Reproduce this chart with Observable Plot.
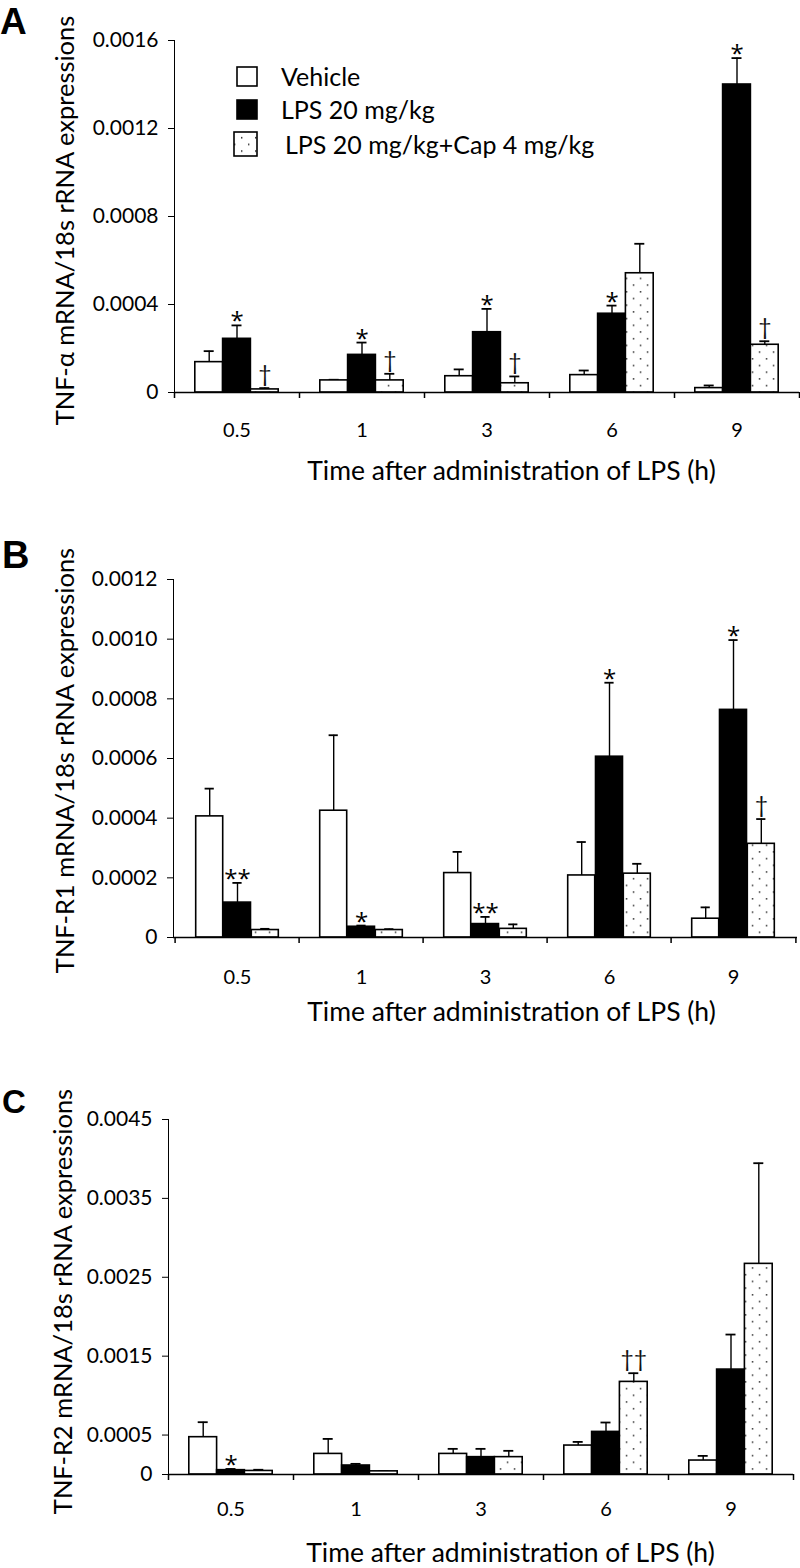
<!DOCTYPE html>
<html>
<head>
<meta charset="utf-8">
<script src="https://cdn.jsdelivr.net/npm/d3@7"></script>
<script src="https://cdn.jsdelivr.net/npm/@observablehq/plot@0.6"></script>
<style>
  html, body { margin: 0; padding: 0; background: #fff; }
  body { width: 800px; height: 1568px; position: relative; overflow: hidden; font-family: Lato, sans-serif; }
  .panel { position: absolute; left: 0; }
  #overlay { position: absolute; left: 0; top: 0; pointer-events: none; }
</style>
</head>
<body>
<svg width="0" height="0" style="position:absolute">
  <defs>
    <pattern id="dots" width="14" height="13.4" patternUnits="userSpaceOnUse">
      <rect width="14" height="13.4" fill="white"></rect>
      <rect x="3" y="3" width="1.4" height="1.4" fill="#111"></rect>
      <rect x="10" y="9.7" width="1.4" height="1.4" fill="#111"></rect>
    </pattern>
  </defs>
</svg>
<div id="A" class="panel" style="top:0px"></div>
<div id="B" class="panel" style="top:540px"></div>
<div id="C" class="panel" style="top:1070px"></div>
<svg id="overlay" width="800" height="1568"></svg>
<script>
// ---------- data ----------
const times = ["0.5", "1", "3", "6", "9"];
const groups = ["Vehicle", "LPS 20 mg/kg", "LPS 20 mg/kg+Cap 4 mg/kg"];
const xTitle = "Time after administration of LPS (h)";

// Panel A: TNF-α
const aTitle = "TNF-α mRNA/18s rRNA expressions";
const aTicks = [0, 0.0004, 0.0008, 0.0012, 0.0016];
const aVehicle    = [0.000138, 0.000055, 0.000074, 0.000079, 0.000020];
const aVehicleSem = [0.000050, 0.000003, 0.000031, 0.000021, 0.000012];
const aLps        = [0.000244, 0.000171, 0.000274, 0.000358, 0.001400];
const aLpsSem     = [0.000061, 0.000056, 0.000106, 0.000037, 0.000120];
const aCap        = [0.000014, 0.000055, 0.000042, 0.000542, 0.000217];
const aCapSem     = [0.000006, 0.000030, 0.000031, 0.000134, 0.000016];
const aVehicleSig = ["", "", "", "", ""];
const aLpsSig     = ["*", "*", "*", "*", "*"];
const aCapSig     = ["†", "†", "†", "", "†"];

// Panel B: TNF-R1
const bTitle = "TNF-R1 mRNA/18s rRNA expressions";
const bTicks = [0, 0.0002, 0.0004, 0.0006, 0.0008, 0.0010, 0.0012];
const bVehicle    = [0.000406, 0.000425, 0.000216, 0.000208, 0.000063];
const bVehicleSem = [0.000093, 0.000253, 0.000071, 0.000112, 0.000038];
const bLps        = [0.000117, 0.000036, 0.000045, 0.000606, 0.000763];
const bLpsSem     = [0.000066, 0.000004, 0.000024, 0.000248, 0.000234];
const bCap        = [0.000025, 0.000025, 0.000029, 0.000214, 0.000314];
const bCapSem     = [0.000004, 0.000003, 0.000015, 0.000033, 0.000083];
const bVehicleSig = ["", "", "", "", ""];
const bLpsSig     = ["**", "*", "**", "*", "*"];
const bCapSig     = ["", "", "", "", "†"];

// Panel C: TNF-R2
const cTitle = "TNF-R2 mRNA/18s rRNA expressions";
const cTicks = [0, 0.0005, 0.0015, 0.0025, 0.0035, 0.0045];
const cVehicle    = [0.000473, 0.000261, 0.000261, 0.000367, 0.000177];
const cVehicleSem = [0.000190, 0.000190, 0.000064, 0.000046, 0.000059];
const cLps        = [0.000055, 0.000114, 0.000220, 0.000540, 0.001330];
const cLpsSem     = [0.000015, 0.000021, 0.000105, 0.000119, 0.000444];
const cCap        = [0.000045, 0.000040, 0.000220, 0.001174, 0.002670];
const cCapSem     = [0.000015, 0.000003, 0.000080, 0.000110, 0.001276];
const cVehicleSig = ["", "", "", "", ""];
const cLpsSig     = ["*", "", "", "", ""];
const cCapSig     = ["", "", "", "††", ""];

// ---------- build tables ----------
function makeRows(means, sems, sigs) {
  const out = [];
  means.forEach((series, gi) => series.forEach((v, ti) => {
    out.push({time: times[ti], group: groups[gi], gi, mean: v, top: v + sems[gi][ti], sig: sigs[gi][ti]});
  }));
  return out;
}
const aRows = makeRows([aVehicle, aLps, aCap], [aVehicleSem, aLpsSem, aCapSem], [aVehicleSig, aLpsSig, aCapSig]);
const bRows = makeRows([bVehicle, bLps, bCap], [bVehicleSem, bLpsSem, bCapSem], [bVehicleSig, bLpsSig, bCapSig]);
const cRows = makeRows([cVehicle, cLps, cCap], [cVehicleSem, cLpsSem, cCapSem], [cVehicleSig, cLpsSig, cCapSig]);

const FONT = "Lato, 'Open Sans', sans-serif";
const STAR_FONT = "'Open Sans', 'DejaVu Sans', sans-serif";
const fills = ["white", "black", "url(#dots)"];

function panel(cfg) {
  const W = 800;
  const {rows, ticks, title, ml, mr, mt, mb, h, yTitleX, yTitleDy, xTitleX, xTitleDy, xLabelDy} = cfg;
  const bw = (W - ml - mr) / times.length;
  const barW = 27.8, capW = 10;
  const frameCx = (ml + W - mr) / 2;
  const marks = [];
  groups.forEach((g, gi) => {
    const d = rows.filter(r => r.gi === gi);
    const dx = (gi - 1) * barW;
    marks.push(Plot.ruleX(d, {x: "time", y1: "mean", y2: "top", dx, stroke: "black", strokeWidth: 1.4}));
    marks.push(Plot.tickY(d, {x: "time", y: "top", dx, insetLeft: (bw - capW) / 2, insetRight: (bw - capW) / 2, stroke: "black", strokeWidth: 1.8}));
    marks.push(Plot.barY(d, {x: "time", y: "mean", dx, insetLeft: (bw - barW) / 2, insetRight: (bw - barW) / 2, fill: fills[gi], stroke: "black", strokeWidth: 1.6}));
    const stars = d.filter(r => r.sig.includes("*"));
    const daggers = d.filter(r => r.sig.includes("†"));
    marks.push(Plot.text(stars, {x: "time", y: "top", text: "sig", dx, lineAnchor: "bottom", dy: 4, fontSize: 24, fontFamily: STAR_FONT, fill: "black"}));
    marks.push(Plot.text(daggers, {x: "time", y: "top", text: "sig", dx, lineAnchor: "bottom", dy: -6, fontSize: 23, fontFamily: FONT, fill: "#111"}));
  });
  // x axis line, boundary ticks and labels
  marks.push(Plot.ruleY([0], {stroke: "black", strokeWidth: 1.5}));
  marks.push(Plot.axisX({tickSize: 6, tickFormat: () => "", dx: -bw / 2, label: null, strokeWidth: 1.5}));
  marks.push(Plot.axisX([times[times.length - 1]], {tickSize: 6, tickFormat: () => "", dx: bw / 2, label: null, strokeWidth: 1.5}));
  marks.push(Plot.text(times, {x: d => d, frameAnchor: "bottom", dy: xLabelDy, lineAnchor: "middle", fontSize: 20, fontFamily: FONT, fill: "black"}));
  // titles
  marks.push(Plot.text([xTitle], {frameAnchor: "bottom", dx: xTitleX - frameCx, dy: xTitleDy, lineAnchor: "middle", fontSize: 26.5, fontFamily: FONT, fill: "black"}));
  marks.push(Plot.text([title], {frameAnchor: "left", dx: yTitleX - ml, dy: yTitleDy, rotate: -90, lineAnchor: "middle", textAnchor: "middle", fontSize: 25.5, fontFamily: FONT, fill: "black"}));
  return Plot.plot({
    width: W, height: h,
    marginLeft: ml, marginRight: mr, marginTop: mt, marginBottom: mb,
    style: {fontFamily: FONT, fontSize: "21px", color: "black", background: "transparent", overflow: "visible"},
    x: {domain: times, padding: 0, axis: null},
    y: {domain: [0, ticks[ticks.length - 1]], ticks, tickFormat: d => d === 0 ? "0" : d.toFixed(4),
        tickSize: 6, tickPadding: 10, line: true, label: null},
    marks
  });
}

document.getElementById("A").append(panel({rows: aRows, ticks: aTicks, title: aTitle,
  ml: 174, mr: 1, mt: 40, mb: 100, h: 492, yTitleX: 65, yTitleDy: 4, xTitleX: 511, xTitleDy: 79, xLabelDy: 38}));
document.getElementById("B").append(panel({rows: bRows, ticks: bTicks, title: bTitle,
  ml: 173, mr: 3, mt: 39, mb: 100, h: 497, yTitleX: 65, yTitleDy: 2, xTitleX: 511, xTitleDy: 75, xLabelDy: 40}));
document.getElementById("C").append(panel({rows: cRows, ticks: cTicks, title: cTitle,
  ml: 168, mr: 7, mt: 49, mb: 94, h: 498, yTitleX: 63, yTitleDy: 4.5, xTitleX: 510, xTitleDy: 79, xLabelDy: 35}));

// ---------- overlay: panel letters and legend ----------
const ov = d3.select("#overlay");
const letters = [{t: "A", x: 0, y: 33.5, s: 37}, {t: "B", x: 2, y: 568, s: 38}, {t: "C", x: 2, y: 1113, s: 33}];
ov.selectAll("text.letter").data(letters).join("text").attr("class", "letter")
  .attr("x", d => d.x).attr("y", d => d.y).attr("font-size", d => d.s)
  .attr("font-family", "'Liberation Sans', Arial, sans-serif").attr("font-weight", "bold").text(d => d.t);

const legendItems = groups.map((g, i) => ({
  label: g, fill: fills[i],
  sx: [237, 237, 234][i], sy: [67, 100, 132][i], sw: [20, 20, 23][i], sh: [19, 19, 24][i],
  tx: [281, 281, 285][i], ty: [86, 119, 154][i]
}));
const lg = ov.append("g");
lg.selectAll("rect").data(legendItems).join("rect")
  .attr("x", d => d.sx).attr("y", d => d.sy).attr("width", d => d.sw).attr("height", d => d.sh)
  .attr("fill", d => d.fill).attr("stroke", "black").attr("stroke-width", 1.6);
lg.selectAll("text").data(legendItems).join("text")
  .attr("x", d => d.tx).attr("y", d => d.ty).attr("font-size", 25).attr("font-family", FONT)
  .text(d => d.label);
</script>
</body>
</html>
